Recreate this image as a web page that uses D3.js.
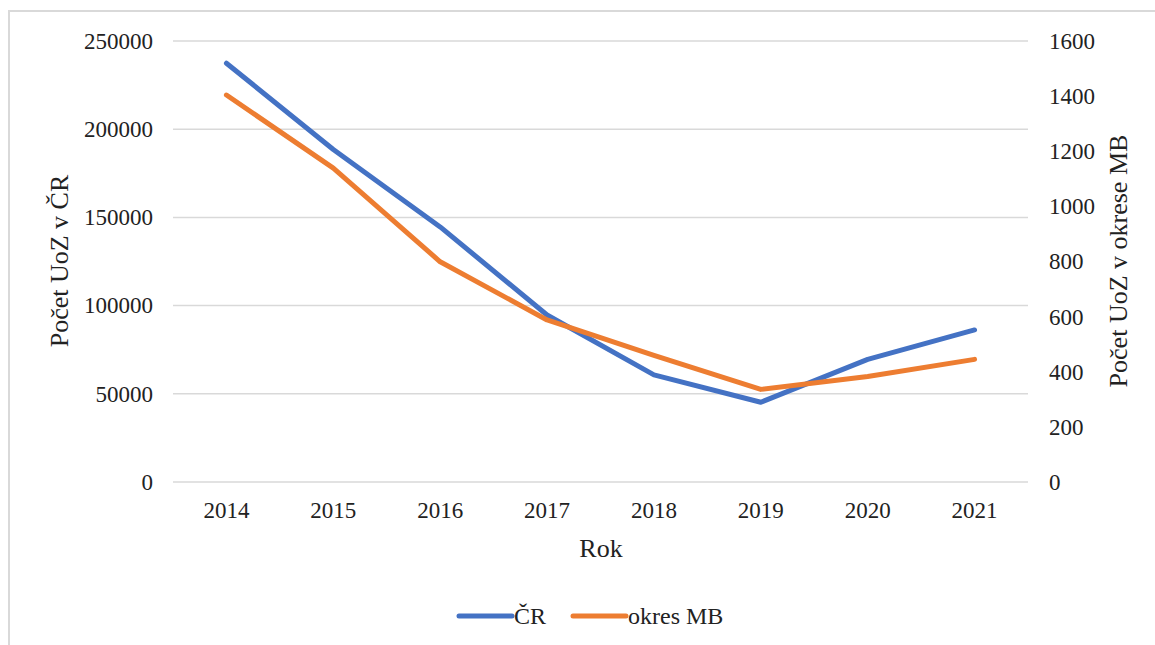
<!DOCTYPE html>
<html>
<head>
<meta charset="utf-8">
<script src="https://cdn.jsdelivr.net/npm/d3@7"></script>
<style>
  html, body { margin: 0; padding: 0; background: #fff; }
  svg { display: block; font-family: "Liberation Serif", "Times New Roman", serif; }
</style>
</head>
<body>
<svg id="chart" width="1155" height="645"></svg>
<script>
const years = ["2014", "2015", "2016", "2017", "2018", "2019", "2020", "2021"];
const crValues = [237400, 188500, 144600, 94700, 60700, 45200, 69500, 86200];
const mbValues = [1404, 1139, 799, 588, 459, 336, 383, 445];
const leftTicks = [0, 50000, 100000, 150000, 200000, 250000];
const rightTicks = [0, 200, 400, 600, 800, 1000, 1200, 1400, 1600];
const seriesNames = ["ČR", "okres MB"];
const colors = ["#4472C4", "#ED7D31"];

const svg = d3.select("#chart");
const plotLeft = 173, plotRight = 1028, plotTop = 41, plotBottom = 482;

// outer chart border
svg.append("rect")
  .attr("x", 9).attr("y", 11)
  .attr("width", 1160).attr("height", 650)
  .attr("fill", "none").attr("stroke", "#d9d9d9").attr("stroke-width", 2);

const x = d3.scaleBand().domain(years).range([plotLeft, plotRight]);
const yL = d3.scaleLinear().domain([0, 250000]).range([plotBottom, plotTop]);
const yR = d3.scaleLinear().domain([0, 1600]).range([plotBottom, plotTop]);

// gridlines
svg.append("g").selectAll("line").data(leftTicks).join("line")
  .attr("x1", plotLeft).attr("x2", plotRight)
  .attr("y1", d => yL(d)).attr("y2", d => yL(d))
  .attr("stroke", "#d9d9d9").attr("stroke-width", 1.5);

// left axis
const gL = svg.append("g").attr("transform", `translate(${plotLeft},0)`)
  .call(d3.axisLeft(yL).tickValues(leftTicks).tickFormat(d3.format("d")).tickSize(0).tickPadding(20));
gL.select(".domain").remove();
gL.selectAll("text").attr("font-size", 23).attr("fill", "#222").attr("font-family", "Liberation Serif");

// right axis
const gR = svg.append("g").attr("transform", `translate(${plotRight},0)`)
  .call(d3.axisRight(yR).tickValues(rightTicks).tickFormat(d3.format("d")).tickSize(0).tickPadding(21));
gR.select(".domain").remove();
gR.selectAll("text").attr("font-size", 23).attr("fill", "#222").attr("font-family", "Liberation Serif");

// bottom axis
const gB = svg.append("g").attr("transform", `translate(0,${plotBottom})`)
  .call(d3.axisBottom(x).tickSize(0).tickPadding(20));
gB.select(".domain").remove();
gB.selectAll("text").attr("font-size", 23).attr("fill", "#222").attr("font-family", "Liberation Serif");

// axis titles
svg.append("text").attr("x", 601).attr("y", 557).attr("text-anchor", "middle")
  .attr("font-size", 26).attr("fill", "#222").text("Rok");
svg.append("text").attr("transform", "translate(68,261) rotate(-90)").attr("text-anchor", "middle")
  .attr("font-size", 26).attr("fill", "#222").text("Počet UoZ v ČR");
svg.append("text").attr("transform", "translate(1127,261) rotate(-90)").attr("text-anchor", "middle")
  .attr("font-size", 26).attr("fill", "#222").text("Počet UoZ v okrese MB");

// lines
const lineL = d3.line().x((d, i) => x(years[i]) + x.bandwidth() / 2).y(d => yL(d));
const lineR = d3.line().x((d, i) => x(years[i]) + x.bandwidth() / 2).y(d => yR(d));

svg.append("path").datum(crValues).attr("d", lineL)
  .attr("fill", "none").attr("stroke", colors[0]).attr("stroke-width", 5)
  .attr("stroke-linejoin", "round").attr("stroke-linecap", "round");
svg.append("path").datum(mbValues).attr("d", lineR)
  .attr("fill", "none").attr("stroke", colors[1]).attr("stroke-width", 5)
  .attr("stroke-linejoin", "round").attr("stroke-linecap", "round");

// legend
const legendX = [459, 573];
const legend = svg.append("g");
seriesNames.forEach((name, i) => {
  legend.append("line")
    .attr("x1", legendX[i]).attr("x2", legendX[i] + 53)
    .attr("y1", 616).attr("y2", 616)
    .attr("stroke", colors[i]).attr("stroke-width", 5).attr("stroke-linecap", "round");
  legend.append("text")
    .attr("x", legendX[i] + 55).attr("y", 616).attr("dy", "0.35em")
    .attr("font-size", 24).attr("fill", "#222").text(name);
});
</script>
</body>
</html>
